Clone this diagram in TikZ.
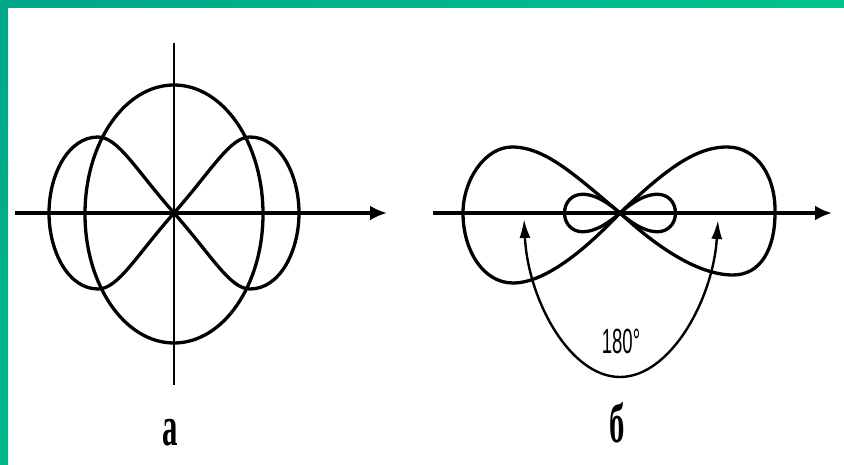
\documentclass[tikz,border=0pt]{standalone}
\usepackage{fontspec}
\usetikzlibrary{arrows.meta}
\newfontfamily\lettersfont{Liberation Serif}
\newfontfamily\degfont{Liberation Sans}
\definecolor{bandleft}{HTML}{00A58A}
\definecolor{bandright}{HTML}{00C48E}
\definecolor{bandbottom}{HTML}{00B88A}

\begin{document}
\begin{tikzpicture}[x=1pt, y=-1pt, line width=3.3pt, line cap=round, line join=round,
  axisline/.style={line width=3.3pt, line cap=butt, -{Latex[length=17pt,width=15pt]}},
  lobe/.style={line width=3.3pt},
  anglearc/.style={line width=2.4pt, line cap=butt, {Latex[length=19pt,width=11pt]}-{Latex[length=19pt,width=11pt]}},
  letter/.style={anchor=base, inner sep=0pt, xscale=0.55, font=\lettersfont\bfseries\fontsize{56}{60}\selectfont},
  degtext/.style={anchor=base, inner sep=0pt, xscale=0.53, font=\degfont\fontsize{35}{40}\selectfont}]

  %% ════ frame (green bands) ════
  \shade[left color=bandleft, right color=bandright] (0,0) rectangle (844,8);
  \shade[top color=bandleft, bottom color=bandbottom] (0,0) rectangle (8,465);

  %% ════ figure a : axes ════
  \draw[line width=2.6pt, line cap=butt] (174,43) -- (174,385);
  \draw[axisline] (15,213) -- (387,213);

  %% ════ figure a : ellipse ════
  \draw[lobe] (174,214) ellipse [x radius=89, y radius=129];

  %% ════ figure a : figure-eight ════
  \draw[lobe] (174,213) .. controls (212,170) and (230,137) .. (250,137)
                        .. controls (280,137) and (299,175) .. (299,213)
                        .. controls (299,251) and (280,289) .. (250,289)
                        .. controls (230,289) and (212,256) .. (174,213);
  \draw[lobe] (174,213) .. controls (136,170) and (118,137) .. (98,137)
                        .. controls (68,137) and (49,175) .. (49,213)
                        .. controls (49,251) and (68,289) .. (98,289)
                        .. controls (118,289) and (136,256) .. (174,213);

  %% ════ figure b : axis ════
  \draw[axisline] (433,213) -- (832,213);

  %% ════ figure b : main lobes ════
  \draw[lobe] (620,213) .. controls (575,175) and (545,147) .. (512,147)
                        .. controls (485,147) and (463,180) .. (463,213)
                        .. controls (463,250) and (483,283) .. (513,283)
                        .. controls (545,283) and (585,250) .. (620,213);
  \draw[lobe] (620,213) .. controls (665,170) and (695,147) .. (727,147)
                        .. controls (758,147) and (776,178) .. (775,213)
                        .. controls (775,250) and (760,275) .. (733,275)
                        .. controls (700,275) and (660,250) .. (620,213);

  %% ════ figure b : back lobes ════
  \draw[lobe] (620,213) .. controls (546,148) and (546,278) .. (620,213);
  \draw[lobe] (620,213) .. controls (694,148) and (694,278) .. (620,213);

  %% ════ figure b : 180 degree arc ════
  \draw[anglearc] (524,219) .. controls (528,300) and (570,377) .. (620,377)
                            .. controls (670,377) and (713,300) .. (718,220);

  %% ════ labels ════
  \node[degtext] (ang)  at (621,353) {180°};
  \node[letter]  (labA) at (170,445) {а};
  \node[letter]  (labB) at (617,442) {б};

  % fix the canvas to the reference size
  \pgfresetboundingbox
  \path[use as bounding box] (0,0) rectangle (844,465);
\end{tikzpicture}
\end{document}
